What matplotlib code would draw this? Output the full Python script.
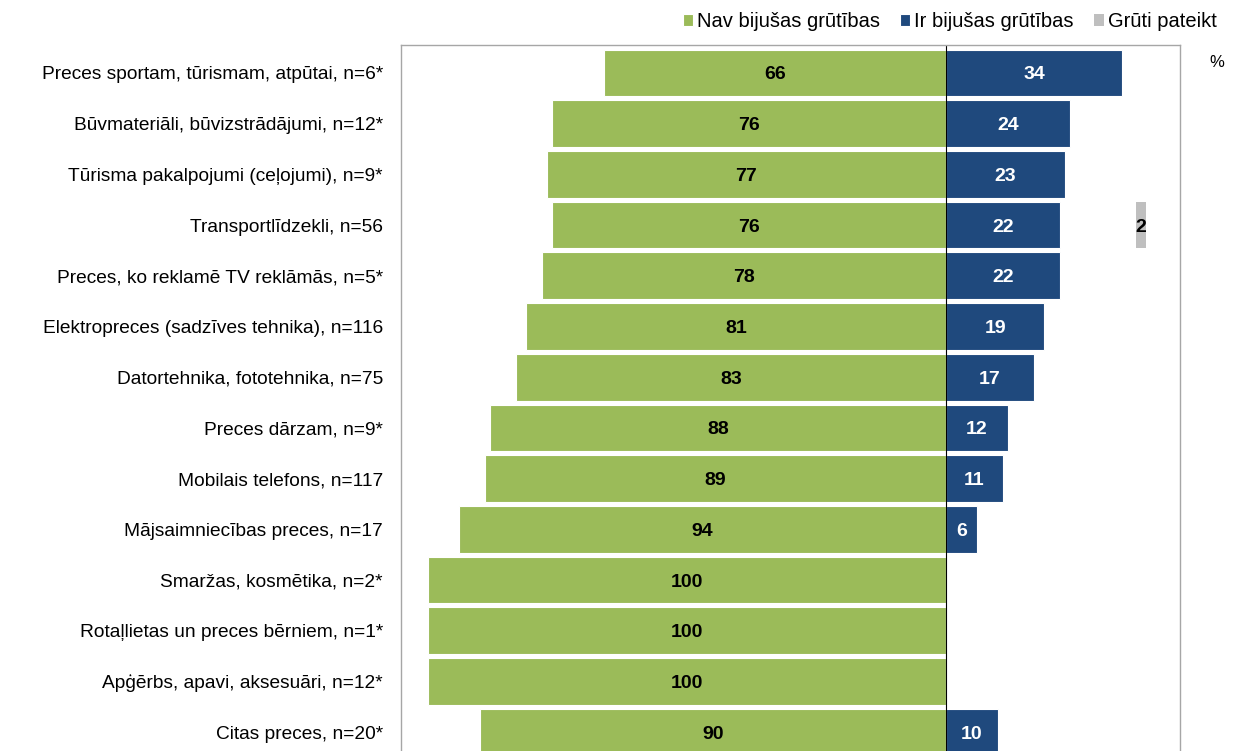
"""Diverging bar chart: difficulties by product category"""

import numpy as np
import matplotlib.pyplot as plt
from matplotlib import font_manager

categories = [
    "Preces sportam, tūrismam, atpūtai, n=6*",
    "Būvmateriāli, būvizstrādājumi, n=12*",
    "Tūrisma pakalpojumi (ceļojumi), n=9*",
    "Transportlīdzekli, n=56",
    "Preces, ko reklamē TV reklāmās, n=5*",
    "Elektropreces (sadzīves tehnika), n=116",
    "Datortehnika, fototehnika, n=75",
    "Preces dārzam, n=9*",
    "Mobilais telefons, n=117",
    "Mājsaimniecības preces, n=17",
    "Smaržas, kosmētika, n=2*",
    "Rotaļlietas un preces bērniem, n=1*",
    "Apģērbs, apavi, aksesuāri, n=12*",
    "Citas preces, n=20*",
]
no_problems = [66, 76, 77, 76, 78, 81, 83, 88, 89, 94, 100, 100, 100, 90]
had_problems = [34, 24, 23, 22, 22, 19, 17, 12, 11, 6, 0, 0, 0, 10]
hard_to_say = [0, 0, 0, 2, 0, 0, 0, 0, 0, 0, 0, 0, 0, 0]
series_names = ["Nav bijušas grūtības", "Ir bijušas grūtības", "Grūti pateikt"]

GREEN = "#9BBB59"
BLUE = "#1F497D"
GRAY = "#BFBFBF"

names = {f.name for f in font_manager.fontManager.ttflist}
narrow = "Liberation Sans Narrow" if "Liberation Sans Narrow" in names else "Liberation Sans"
plt.rcParams['font.family'] = ['Liberation Sans', 'DejaVu Sans']


def main():
    fig = plt.figure(figsize=(12.35, 7.51), dpi=100)
    ax = fig.add_axes([0.3247, -0.012, 0.6308, 0.952])

    y = np.arange(len(categories))
    green = -np.array(no_problems)
    blue = np.array(had_problems)
    gray = np.array(hard_to_say)
    gray_start = 36.7  # Excel puts the third series after an invisible gap

    h = 0.92
    ax.barh(y, green, height=h, color=GREEN, edgecolor="white", linewidth=0.8,
            label=series_names[0])
    ax.barh(y, blue, height=h, color=BLUE, edgecolor="white", linewidth=0.8,
            label=series_names[1])
    ax.barh(y, gray, left=gray_start, height=h, color=GRAY, edgecolor="none",
            label=series_names[2])

    lab = dict(ha="center", va="center_baseline", fontsize=14,
               fontweight="bold", family=narrow)
    for i in range(len(categories)):
        ax.text(green[i] / 2, i, f"{no_problems[i]}", color="black", **lab)
        if blue[i] > 0:
            ax.text(blue[i] / 2, i, f"{had_problems[i]}", color="white", **lab)
        if gray[i] > 0:
            ax.text(gray_start + gray[i] / 2, i, f"{hard_to_say[i]}",
                    color="black", **lab)

    ax.axvline(0, color="black", linewidth=0.8)
    ax.set_xlim(-105.2, 45.2)
    ax.set_ylim(len(categories) - 1 + 0.55, -0.55)

    ax.set_xticks([])
    ax.set_yticks(y)
    ax.set_yticklabels(categories, fontsize=13.8)
    ax.tick_params(axis="y", length=0, pad=13)
    for side in ["left", "right", "top", "bottom"]:
        ax.spines[side].set_color("#A6A6A6")
        ax.spines[side].set_linewidth(1.0)

    fig.legend(loc="upper right", bbox_to_anchor=(1.0, 1.008), ncol=3,
               frameon=False, handlelength=0.5, handleheight=0.5,
               handletextpad=0.2, columnspacing=1.0,
               prop={"family": narrow, "size": 14.5})
    fig.text(0.9915, 0.917, "%", ha="right", va="center", fontsize=12)

    plt.savefig("out.png", dpi=100)
    plt.close()


if __name__ == "__main__":
    main()
